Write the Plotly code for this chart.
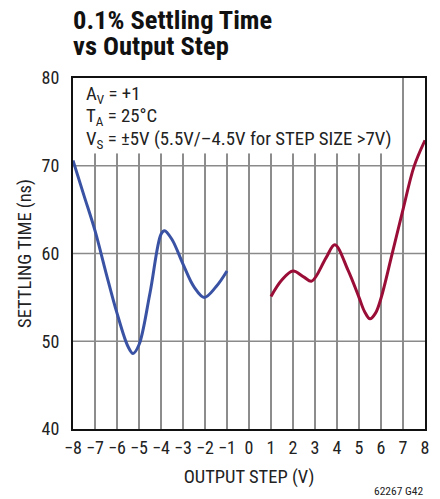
import plotly.graph_objects as go

# Data
neg_step = [-8, -7.5, -7, -6.5, -6, -5.5, -5.27, -5, -4.5, -4, -3.84, -3.5, -3, -2.5, -2.03, -1.5, -1]
neg_time = [70.6, 66.6, 62.6, 57.8, 53.2, 49.4, 48.6, 49.6, 55.5, 62.2, 62.6, 61.6, 58.8, 56.2, 55.0, 56.2, 58.0]

pos_step = [1, 1.5, 2, 2.5, 2.85, 3.5, 3.9, 4.5, 5, 5.25, 5.5, 5.75, 6, 6.5, 7, 7.5, 8]
pos_time = [55.1, 57.0, 58.0, 57.3, 56.85, 59.5, 61.0, 58.1, 55.0, 53.4, 52.55, 53.2, 54.9, 59.9, 65.0, 69.9, 72.9]

x_ticks = [-8, -7, -6, -5, -4, -3, -2, -1, 0, 1, 2, 3, 4, 5, 6, 7, 8]
x_labels = ["\u22128", "\u22127", "\u22126", "\u22125", "\u22124", "\u22123", "\u22122", "\u22121",
            "0", "1", "2", "3", "4", "5", "6", "7", "8"]
y_ticks = [40, 50, 60, 70, 80]

title_lines = ["0.1% Settling Time", "vs Output Step"]
note_lines = ["A<sub>V</sub> = +1", "T<sub>A</sub> = 25\u00b0C",
              "V<sub>S</sub> = \u00b15V (5.5V/\u20134.5V for STEP SIZE >7V)"]

FONT = "Liberation Sans Narrow, Roboto Condensed, Liberation Sans, Arial"

fig = go.Figure()
fig.add_trace(go.Scatter(x=neg_step, y=neg_time, mode="lines", line=dict(color="#3a52a3", width=3, shape="spline"),
                         showlegend=False, hoverinfo="skip"))
fig.add_trace(go.Scatter(x=pos_step, y=pos_time, mode="lines", line=dict(color="#9a0d36", width=3, shape="spline"),
                         showlegend=False, hoverinfo="skip"))

shapes = []
for xv in x_ticks[1:-1]:
    top = 80 if xv == 7 else 71.4
    shapes.append(dict(type="line", xref="x", yref="y", x0=xv, x1=xv, y0=40, y1=top,
                       line=dict(color="#1a1a1a", width=1), layer="below"))
for yv in y_ticks[1:-1]:
    shapes.append(dict(type="line", xref="x", yref="y", x0=-8, x1=8, y0=yv, y1=yv,
                       line=dict(color="#8a8a8a", width=1.5), layer="below"))

annotations = []
for text, ys in zip(title_lines, [59, 33]):
    annotations.append(dict(xref="paper", yref="paper", x=0, y=1, xanchor="left", yanchor="middle",
                            xshift=-2, yshift=ys, align="left", showarrow=False,
                            text="<b>" + text + "</b>",
                            font=dict(size=26.5, color="#111111", family=FONT)))
for text, ys in zip(note_lines, [-17, -38.5, -61.5]):
    annotations.append(dict(xref="paper", yref="paper", x=0, y=1, xanchor="left", yanchor="middle",
                            xshift=11, yshift=ys, align="left", showarrow=False, text=text,
                            font=dict(size=18.8, color="#222222", family=FONT)))
annotations.append(dict(xref="paper", yref="paper", x=1, y=0, xanchor="right", yanchor="middle",
                        yshift=-62, showarrow=False, text="62267 G42",
                        font=dict(size=11.5, color="#222222", family=FONT)))

fig.update_layout(
    width=432, height=491,
    margin=dict(l=65, r=15, t=70, b=70),
    paper_bgcolor="white", plot_bgcolor="white",
    font=dict(family=FONT, color="#222222", size=18),
    shapes=shapes,
    xaxis=dict(range=[-8, 8], tickmode="array", tickvals=x_ticks, ticktext=x_labels,
               showgrid=False, zeroline=False, showline=True, linecolor="#111111", linewidth=2,
               mirror=True, ticks="", tickfont=dict(size=18), ticklabelstandoff=1,
               title=dict(text="OUTPUT STEP (V)", font=dict(size=18.5), standoff=13)),
    yaxis=dict(range=[40, 80], tickmode="array", tickvals=y_ticks,
               showgrid=False, zeroline=False, showline=True, linecolor="#111111", linewidth=2,
               mirror=True, ticks="", tickfont=dict(size=18), ticklabelstandoff=8,
               title=dict(text="SETTLING TIME (ns)", font=dict(size=18.5), standoff=5)),
    annotations=annotations,
)

fig.write_html("out.html")
